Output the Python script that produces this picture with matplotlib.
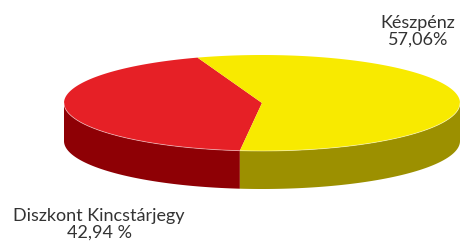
import numpy as np
import matplotlib
matplotlib.use('Agg')
import matplotlib.pyplot as plt
from matplotlib.patches import Polygon

# 数据
labels = ['Diszkont Kincstárjegy', 'Készpénz']
values = [42.94, 57.06]
value_labels = ['42,94 %', '57,06%']
top_colors = ['#e62026', '#f8ea00']
side_colors = ['#8e0005', '#9c9000']

plt.rcParams['font.family'] = ['Lato', 'DejaVu Sans']

W, H = 461, 243
fig = plt.figure(figsize=(W / 100, H / 100), dpi=100)
ax = fig.add_axes([0, 0, 1, 1])
ax.set_xlim(0, W)
ax.set_ylim(H, 0)
ax.axis('off')

# 椭圆几何 (像素坐标)
cx, cy = 262, 103
rx, ry = 198, 48
depth = 38
start = 109.0  # 第一块的起始角度 (度)


def ellipse_pts(t0, t1, n=200):
    t = np.radians(np.linspace(t0, t1, n))
    return cx + rx * np.cos(t), cy - ry * np.sin(t)


angles = [start]
for v in values:
    angles.append(angles[-1] + v / sum(values) * 360)

# 侧面 (只画前半部分 180..360)
for i in range(len(values)):
    a0, a1 = angles[i], angles[i + 1]
    for off in (-360, 0, 360):
        lo = max(a0 + off, 180)
        hi = min(a1 + off, 360)
        if hi <= lo:
            continue
        x, y = ellipse_pts(lo, hi)
        xs = np.concatenate([x, x[::-1]])
        ys = np.concatenate([y, y[::-1] + depth])
        ax.add_patch(Polygon(np.column_stack([xs, ys]), closed=True,
                             facecolor=side_colors[i], edgecolor='none'))

# 顶面
for i in range(len(values)):
    x, y = ellipse_pts(angles[i], angles[i + 1])
    xs = np.concatenate([[cx], x])
    ys = np.concatenate([[cy], y])
    ax.add_patch(Polygon(np.column_stack([xs, ys]), closed=True,
                         facecolor=top_colors[i], edgecolor='none'))

# 顶面前缘的浅色线
x, y = ellipse_pts(180, 360)
ax.plot(x, y, color='white', lw=0.6, alpha=0.5)

# 标签
ax.text(99, 224, labels[0] + '\n' + value_labels[0], ha='center', va='center',
        fontsize=13, color='#333333', linespacing=1.05)
ax.text(418, 31, labels[1] + '\n' + value_labels[1], ha='center', va='center',
        fontsize=13, color='#333333', linespacing=1.05)

fig.savefig('out.png', dpi=100, facecolor='white')
